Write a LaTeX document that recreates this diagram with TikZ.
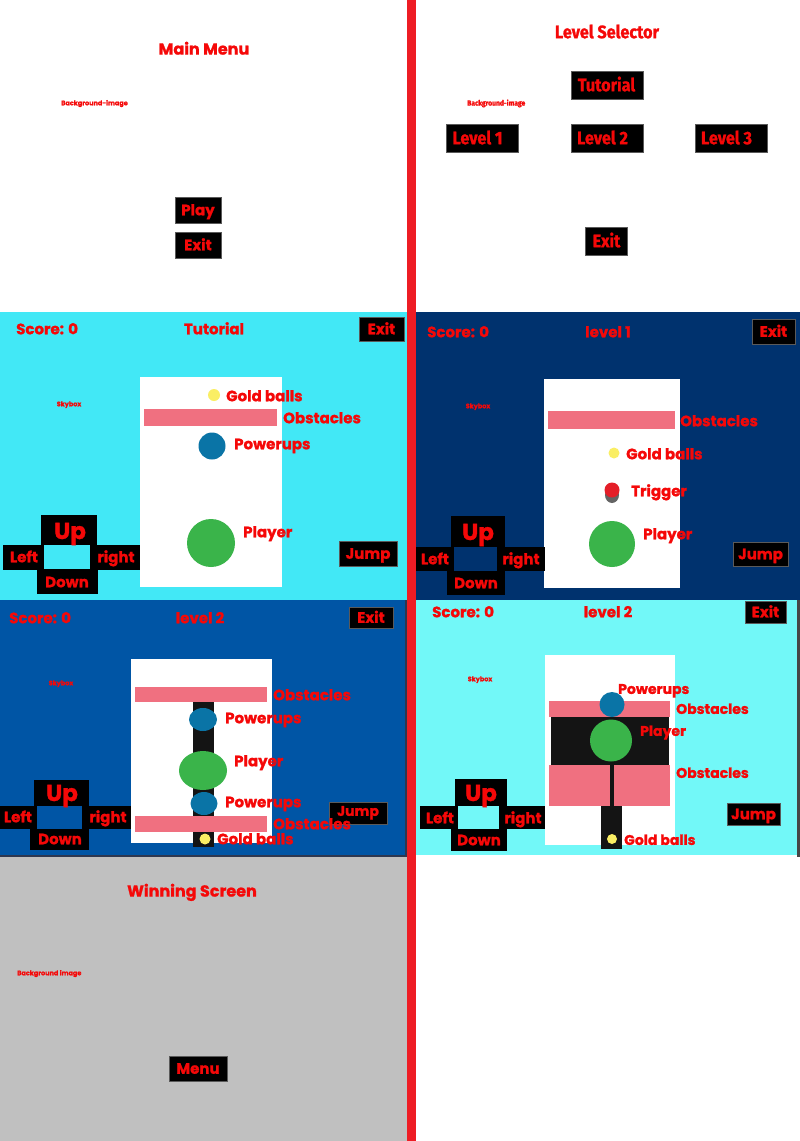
\documentclass[tikz,border=0pt]{standalone}
\usepackage{fontspec}
\setmainfont{Poppins}[BoldFeatures={FakeBold=1.2}]
\newfontfamily\selfont[FakeStretch=0.9,BoldFeatures={FakeBold=1.2}]{Fira Sans}
\definecolor{txtred}{RGB}{245,8,8}
\definecolor{divred}{RGB}{238,28,36}
\definecolor{tutbg}{RGB}{66,232,246}
\definecolor{lvlonebg}{RGB}{0,50,110}
\definecolor{lvltwobg}{RGB}{0,85,165}
\definecolor{lvlthreebg}{RGB}{114,248,248}
\definecolor{winbg}{RGB}{192,192,192}
\definecolor{obst}{RGB}{240,112,128}
\definecolor{pwr}{RGB}{10,116,166}
\definecolor{plyr}{RGB}{58,180,74}
\definecolor{gold}{RGB}{250,238,100}
\definecolor{trig}{RGB}{228,30,40}
\definecolor{trigbase}{RGB}{100,100,100}
\definecolor{bar}{RGB}{20,20,20}
\definecolor{btnedge}{RGB}{90,90,90}
\definecolor{edgedark}{RGB}{45,55,80}
\tikzset{
  txt/.style={inner sep=0pt, text=txtred, text depth=0pt, f15},
  f15/.style={font=\bfseries\fontsize{15}{15}\selectfont, text height=10.5pt},
  f14/.style={font=\bfseries\fontsize{14}{14}\selectfont, text height=9.8pt},
  f16/.style={font=\bfseries\fontsize{16}{16}\selectfont, text height=11.2pt},
  f23/.style={font=\bfseries\fontsize{23}{23}\selectfont, text height=16pt},
  lbl/.style={txt, anchor=west},
  title/.style={txt, f16},
  hud/.style={txt, f15},
  tiny/.style={txt, font=\bfseries\fontsize{6.5}{6.5}\selectfont, text height=4.5pt},
  btn/.style={txt, fill=black, draw=btnedge, line width=0.6pt},
  selfont/.style={font=\selfont\bfseries\fontsize{18}{18}\selectfont, text height=12.4pt},
  dpadbig/.style={txt, f23},
  dpad/.style={txt, f15},
}
\begin{document}
\begin{tikzpicture}[x=1pt,y=-1pt]
\useasboundingbox (0,0) rectangle (800,1141);
% panel backgrounds
\fill[white] (0,0) rectangle (800,1141);
\fill[tutbg] (0,312) rectangle (407,600);
\fill[lvlonebg] (416,312) rectangle (800,600);
\fill[lvltwobg] (0,600) rectangle (407,857);
\fill[edgedark] (0,855) rectangle (407,857);
\fill[edgedark] (405,600) rectangle (407,857);
\fill[lvlthreebg] (416,600) rectangle (797,855);
\fill[trigbase!70!black] (797,600) rectangle (800,857);
\fill[winbg] (0,857) rectangle (407,1141);
\fill[divred] (407,0) rectangle (416,1141);

% ---------- Main menu ----------
\node[title] (mmtitle) at (204,49) {Main Menu};
\node[tiny, anchor=west] (mmbg) at (61,103) {Background-image};
\node[btn, minimum width=46, minimum height=26] (mmplay) at (198,210) {Play};
\node[btn, minimum width=46, minimum height=26] (mmexit) at (198,245) {Exit};

% ---------- Level selector ----------
\node[txt, font=\selfont\bfseries\fontsize{18}{18}\selectfont, text height=12.4pt] (lstitle) at (607,32) {Level Selector};
\node[txt, anchor=west, font=\selfont\bfseries\fontsize{7.5}{7.5}\selectfont, text height=5.2pt] (lsbg) at (467,103) {Background-image};
\node[btn, minimum width=72, minimum height=28] (lstut) at (607,85) {};
\node[btn, minimum width=72, minimum height=28] (lsone) at (482,138) {};
\node[btn, minimum width=72, minimum height=28] (lstwo) at (607,138) {};
\node[btn, minimum width=72, minimum height=28] (lsthree) at (731,138) {};
\node[btn, minimum width=42, minimum height=28] (lsexit) at (606,241) {};
\node[txt, selfont] (lstutt) at (606.5,85) {Tutorial};
\node[txt, selfont] (lsonet) at (477.5,138) {Level 1};
\node[txt, selfont] (lstwot) at (602.5,138) {Level 2};
\node[txt, selfont] (lsthreet) at (726.5,138) {Level 3};
\node[txt, selfont] (lsexitt) at (606.5,241) {Exit};

% ---------- Tutorial ----------
\node[hud, anchor=west] (tscore) at (16,329) {Score: 0};
\node[hud] (ttitle) at (214,329) {Tutorial};
\node[btn, minimum width=45, minimum height=24] (texit) at (381.5,329) {Exit};
\node[tiny] (tsky) at (69,404) {Skybox};
\fill[white] (140,377) rectangle (282,587);
\fill[gold] (214,395) circle (6);
\fill[obst] (144,409) rectangle (277,426);
\fill[pwr] (212,446) circle (13.5);
\fill[plyr] (211,543) circle (24);
\node[lbl] (tgold) at (226,396) {Gold balls};
\node[lbl] (tobst) at (283,418) {Obstacles};
\node[lbl] (tpwr) at (234,444) {Powerups};
\node[lbl] (tplyr) at (243,532) {Player};
\fill[black] (41,515) rectangle (97,546);
\fill[black] (3,545) rectangle (140,570);
\fill[black] (37,569) rectangle (98,594);
\fill[tutbg] (44,545) rectangle (90,569);
\node[dpadbig] (tup) at (70,531) {Up};
\node[dpad] (tleft) at (24,557) {Left};
\node[dpad] (tright) at (116,557) {right};
\node[dpad] (tdown) at (67,582) {Down};
\node[btn, minimum width=58, minimum height=25] (tjump) at (368,553.5) {Jump};

% ---------- Level 1 ----------
\node[hud, anchor=west] (oscore) at (427,332) {Score: 0};
\node[hud] (otitle) at (608,332) {level 1};
\node[btn, minimum width=43, minimum height=25] (oexit) at (773.5,331.5) {Exit};
\node[tiny] (osky) at (478,406) {Skybox};
\fill[white] (544,379) rectangle (680,588);
\fill[obst] (548,411) rectangle (675,429);
\fill[gold] (614,453) circle (5.5);
\fill[trigbase] (612,495) ellipse (7 and 8);
\fill[trig] (612,490) circle (7.5);
\fill[plyr] (612,544) circle (23);
\node[lbl] (oobst) at (680,421) {Obstacles};
\node[lbl] (ogold) at (626,454) {Gold balls};
\node[lbl] (otrig) at (631,491) {Trigger};
\node[lbl] (oplyr) at (643,534) {Player};
\fill[black] (451,516) rectangle (505,548);
\fill[black] (416,547) rectangle (545,571);
\fill[black] (447,570) rectangle (505,595);
\fill[lvlonebg] (454,547) rectangle (497,571);
\node[dpadbig] (oup) at (478,532) {Up};
\node[dpad] (oleft) at (435,559) {Left};
\node[dpad] (oright) at (521,559) {right};
\node[dpad] (odown) at (476,583) {Down};
\node[btn, minimum width=55, minimum height=24] (ojump) at (760.5,554) {Jump};

% ---------- Level 2 (left) ----------
\node[hud, anchor=west] (wscore) at (9,618) {Score: 0};
\node[hud] (wtitle) at (200,618) {level 2};
\node[btn, minimum width=44, minimum height=21] (wexit) at (371,617.5) {Exit};
\node[tiny] (wsky) at (61,683) {Skybox};
\fill[white] (131,659) rectangle (272,843);
\fill[bar] (193,702) rectangle (214,816);
\fill[obst] (135,687) rectangle (267,702);
\fill[pwr] (203,719.5) ellipse (14 and 11.5);
\fill[plyr] (203,770.5) ellipse (24 and 19.5);
\fill[pwr] (204,803.5) ellipse (13.5 and 11.5);
\fill[obst] (135,816) rectangle (267,832);
\fill[bar] (193,832) rectangle (214,847);
\fill[gold] (205,839) circle (5.5);
\node[btn, minimum width=58, minimum height=22] (wjump) at (358,813) {};
\node[txt, f14] (wjumpt) at (358,811) {Jump};
\node[lbl] (wobsta) at (273,695) {Obstacles};
\node[lbl] (wpwra) at (225,718) {Powerups};
\node[lbl] (wplyr) at (234,761) {Player};
\node[lbl] (wpwrb) at (225,802) {Powerups};
\node[lbl] (wobstb) at (273,824) {Obstacles};
\node[lbl] (wgold) at (217,839) {Gold balls};
\fill[black] (34,780) rectangle (89,807);
\fill[black] (0,806) rectangle (131,829);
\fill[black] (30,828) rectangle (89,850);
\fill[lvltwobg] (37,806) rectangle (82,829);
\node[dpadbig] (wup) at (62,793) {Up};
\node[dpad] (wleft) at (18,817) {Left};
\node[dpad] (wright) at (108,817) {right};
\node[dpad] (wdown) at (60,839) {Down};

% ---------- Level 2 (right) ----------
\node[hud, anchor=west] (rscore) at (432,612) {Score: 0};
\node[hud] (rtitle) at (608,612) {level 2};
\node[btn, minimum width=41, minimum height=22] (rexit) at (765.5,612) {Exit};
\node[tiny] (rsky) at (480,679) {Skybox};
\fill[white] (545,655) rectangle (675,845);
\fill[obst] (549,701) rectangle (670,717);
\fill[bar] (551,717) rectangle (669,765);
\fill[pwr] (612,704.5) circle (12.5);
\fill[plyr] (611,740.5) circle (21);
\fill[obst] (549,765) rectangle (610,806);
\fill[obst] (614,765) rectangle (670,806);
\fill[bar] (610,765) rectangle (614,806);
\fill[bar] (601,806) rectangle (622,849);
\fill[gold] (612,839) circle (5);
\node[lbl, f14] (rpwr) at (618,689) {Powerups};
\node[lbl, f14] (robsta) at (676,709) {Obstacles};
\node[lbl, f14] (rplyr) at (640,731) {Player};
\node[lbl, f14] (robstb) at (676,773) {Obstacles};
\node[lbl, f14] (rgold) at (624,840) {Gold balls};
\fill[black] (455,779) rectangle (507,807);
\fill[black] (420,806) rectangle (545,829);
\fill[black] (451,828) rectangle (507,851);
\fill[lvlthreebg] (458,806) rectangle (499,829);
\node[dpadbig] (rup) at (481,793) {Up};
\node[dpad] (rleft) at (440,818) {Left};
\node[dpad] (rright) at (523,818) {right};
\node[dpad] (rdown) at (479,840) {Down};
\node[btn, minimum width=53, minimum height=22] (rjump) at (753.5,814) {Jump};

% ---------- Winning screen ----------
\node[title] (wintitle) at (192,891) {Winning Screen};
\node[tiny, anchor=west] (winbgtxt) at (17,973) {Background image};
\node[btn, minimum width=58, minimum height=25] (winmenu) at (198,1068.5) {Menu};
\end{tikzpicture}
\end{document}
